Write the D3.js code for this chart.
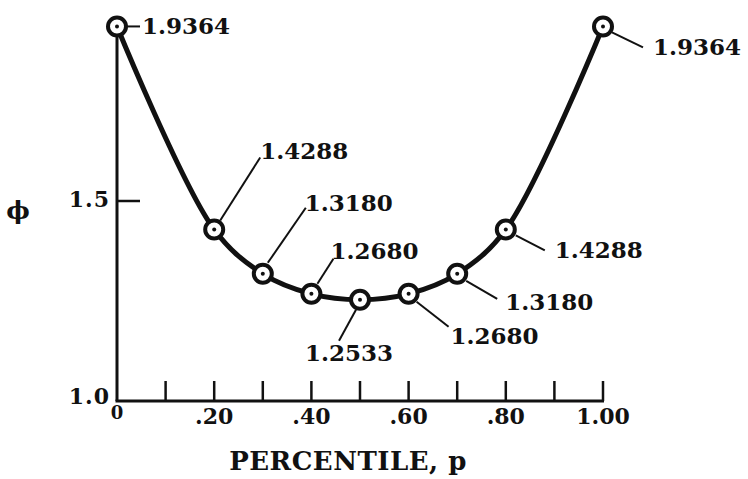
<!DOCTYPE html>
<html lang="en">
<head>
<meta charset="UTF-8">
<title>phi vs percentile</title>
<style>
    body { margin:0; background:#fff; }
    svg text { font-family:"DejaVu Serif", serif; font-weight:bold; fill:#111; }
</style>
</head>
<body>
<script src="https://cdn.jsdelivr.net/npm/d3@7/dist/d3.min.js"></script>
<script>
    // data
    var percentiles = [0, .2, .3, .4, .5, .6, .7, .8, 1.0];
    var phiValues = [1.9364, 1.4288, 1.3180, 1.2680, 1.2533, 1.2680, 1.3180, 1.4288, 1.9364];
    var valueLabels = ["1.9364", "1.4288", "1.3180", "1.2680", "1.2533", "1.2680", "1.3180", "1.4288", "1.9364"];
    var xTickValues = [0, .1, .2, .3, .4, .5, .6, .7, .8, .9, 1.0];
    var xTickLabels = ["0", "", ".20", "", ".40", "", ".60", "", ".80", "", "1.00"];
    var yTickValues = [1.0, 1.5];
    var yTickLabels = ["1.0", "1.5"];

    // leader line + label placement, relative to each point
    var callouts = [
        {x1:10, y1:0,   x2:23,  y2:0,   tx:25,  ty:0},
        {x1:6,  y1:-9,  x2:46,  y2:-72, tx:46,  ty:-78},
        {x1:5,  y1:-11, x2:43,  y2:-66, tx:42,  ty:-71},
        {x1:6,  y1:-10, x2:22,  y2:-35, tx:19,  ty:-43},
        {x1:-4, y1:10,  x2:-21, y2:41,  tx:-55, ty:53},
        {x1:8,  y1:8,   x2:40,  y2:33,  tx:42,  ty:42},
        {x1:9,  y1:7,   x2:40,  y2:25,  tx:48,  ty:28},
        {x1:10, y1:6,   x2:39,  y2:21,  tx:49,  ty:21},
        {x1:9,  y1:6,   x2:40,  y2:21,  tx:50,  ty:21}
    ];

    var w = 748, h = 479;
    var svg = d3.select("body").append("svg").attr("width", w).attr("height", h);

    var x = d3.scaleLinear().domain([0, 1]).range([117, 603]);
    var y = d3.scaleLinear().domain([1, 2]).range([401, 1]);

    var ink = "#111";

    // axes
    svg.append("line")
        .attr("x1", x(0)).attr("x2", x(0))
        .attr("y1", y(d3.max(phiValues))).attr("y2", y(1))
        .attr("stroke", ink).attr("stroke-width", 3);
    svg.append("line")
        .attr("x1", x(0) - 1.5).attr("x2", x(1) + 1)
        .attr("y1", y(1)).attr("y2", y(1))
        .attr("stroke", ink).attr("stroke-width", 3);

    svg.selectAll(".xtick").data(xTickValues.slice(1)).enter().append("line")
        .attr("class", "xtick")
        .attr("x1", function (d) { return x(d); })
        .attr("x2", function (d) { return x(d); })
        .attr("y1", y(1)).attr("y2", y(1) - 20)
        .attr("stroke", ink).attr("stroke-width", 2.5);

    svg.selectAll(".xlab").data(xTickValues).enter().append("text")
        .attr("class", "xlab")
        .attr("x", function (d) { return x(d); })
        .attr("y", function (d, i) { return i === 0 ? y(1) + 18 : y(1) + 23; })
        .attr("text-anchor", "middle")
        .attr("font-size", function (d, i) { return i === 0 ? "18px" : "22px"; })
        .text(function (d, i) { return xTickLabels[i]; });

    svg.append("line")
        .attr("x1", x(0)).attr("x2", x(0) + 23)
        .attr("y1", y(1.5)).attr("y2", y(1.5))
        .attr("stroke", ink).attr("stroke-width", 2.5);

    svg.selectAll(".ylab").data(yTickValues).enter().append("text")
        .attr("class", "ylab")
        .attr("x", x(0) - 7)
        .attr("y", function (d) { return y(d) + (d === 1 ? 3 : 6); })
        .attr("text-anchor", "end")
        .attr("font-size", "22px")
        .attr("letter-spacing", "1px")
        .text(function (d, i) { return yTickLabels[i]; });

    svg.append("text")
        .attr("x", 18).attr("y", y(1.5) + 18)
        .attr("font-size", "25px")
        .attr("text-anchor", "middle")
        .text("\u03D5");

    svg.append("text")
        .attr("x", 348).attr("y", 470)
        .attr("text-anchor", "middle")
        .attr("font-size", "26px")
        .attr("letter-spacing", "0.5px")
        .text("PERCENTILE, p");

    // curve
    var line = d3.line()
        .x(function (d, i) { return x(percentiles[i]); })
        .y(function (d) { return y(d); })
        .curve(d3.curveCatmullRom.alpha(0.5));
    svg.append("path").datum(phiValues)
        .attr("d", line)
        .attr("fill", "none")
        .attr("stroke", ink)
        .attr("stroke-width", 5)
        .attr("stroke-linejoin", "round");

    // callouts
    var g = svg.selectAll(".pt").data(phiValues).enter().append("g")
        .attr("class", "pt")
        .attr("transform", function (d, i) { return "translate(" + x(percentiles[i]) + "," + y(d) + ")"; });

    g.append("line")
        .attr("x1", function (d, i) { return callouts[i].x1; })
        .attr("y1", function (d, i) { return callouts[i].y1; })
        .attr("x2", function (d, i) { return callouts[i].x2; })
        .attr("y2", function (d, i) { return callouts[i].y2; })
        .attr("stroke", ink).attr("stroke-width", 2);

    g.append("text")
        .attr("x", function (d, i) { return callouts[i].tx; })
        .attr("y", function (d, i) { return callouts[i].ty + 8; })
        .attr("font-size", "23px")
        .text(function (d, i) { return valueLabels[i]; });

    g.append("circle").attr("r", 9)
        .attr("fill", "#fff").attr("stroke", ink).attr("stroke-width", 4);
    g.append("circle").attr("r", 2).attr("fill", ink);
</script>
</body>
</html>
